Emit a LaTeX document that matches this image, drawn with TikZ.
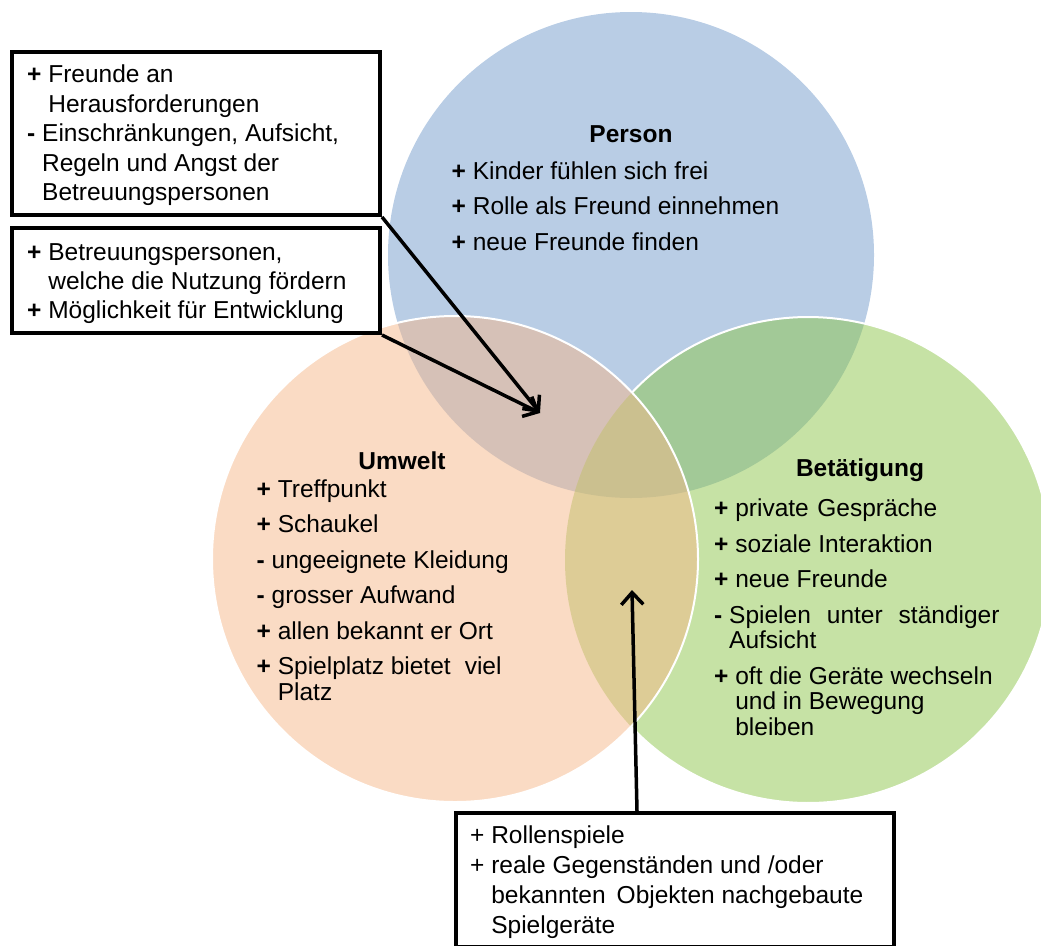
\documentclass[tikz,border=0pt]{standalone}
\usepackage{fontspec}
\setmainfont{Liberation Sans}
\usetikzlibrary{arrows.meta,calc}
\definecolor{cblue}{RGB}{115,155,203}
\definecolor{cgreen}{RGB}{141,197,75}
\definecolor{corange}{RGB}{245,183,137}
\begin{document}
\begin{tikzpicture}[x=1pt,y=-1pt,
  venn/.style={fill opacity=0.5},
  ring/.style={draw=white,line width=2pt},
  lst/.style={anchor=base west,align=left,inner sep=0pt,font=\fontsize{24.5}{25.5}\selectfont},
  boxtxt/.style={anchor=base west,align=left,inner sep=0pt,font=\fontsize{24.5}{29.5}\selectfont},
  head/.style={anchor=base,inner sep=0pt,font=\fontsize{24.5}{26}\selectfont\bfseries},
  frame/.style={draw=black,line width=4pt,fill=white,inner sep=0pt},
  conn/.style={line width=3.5pt,-{Straight Barb[length=12pt,width=22pt]}}]
\useasboundingbox (0,0) rectangle (1041,945);
% circles
\fill[cblue,venn] (631,255) circle[radius=243];
\fill[cgreen,venn] (808,560) circle[radius=243];
\fill[corange,venn] (455,559) circle[radius=243];
\draw[ring] ([shift={(-136.4:243)}]808,560) arc[start angle=-136.4,end angle=136.8,radius=243];
\draw[ring] (455,559) circle[radius=243];
% headings
\node[head] (hperson) at (631,142.7) {Person};
\node[head] (humwelt) at (402,469) {Umwelt};
\node[head] (hbet) at (860,476) {Betätigung};
% lists (anchored at the baseline of their last line)
\node[lst] (lperson) at (451.5,250) {\textbf{+} Kinder fühlen sich frei\\[10pt]
\textbf{+} Rolle als Freund einnehmen\\[10pt]
\textbf{+} neue Freunde finden};
\node[lst] (lumwelt) at (256.5,700) {\textbf{+} Treffpunkt\\[10pt]
\textbf{+} Schaukel\\[10pt]
\textbf{-} ungeeignete Kleidung\\[10pt]
\textbf{-} grosser Aufwand\\[10pt]
\textbf{+} allen bekannt er Ort\\[10pt]
\textbf{+} Spielplatz bietet\hspace{14pt}viel\\
\phantom{\textbf{+} }Platz};
\node[lst] (lbet) at (714,735) {\textbf{+} private\hspace{8.5pt}Gespräche\\[10pt]
\textbf{+} soziale Interaktion\\[10pt]
\textbf{+} neue Freunde\\[10pt]
\textbf{-} Spielen\hspace{16pt}unter\hspace{16pt}ständiger\\
\phantom{\textbf{-} }Aufsicht\\[10pt]
\textbf{+} oft die Geräte wechseln\\
\phantom{\textbf{+} }und in Bewegung\\
\phantom{\textbf{+} }bleiben};
% boxes
\node[frame,minimum width=368pt,minimum height=163pt] (box1) at (196,133.5) {};
\node[frame,minimum width=368pt,minimum height=105pt] (box2) at (196,280.5) {};
\node[frame,minimum width=438pt,minimum height=134pt] (box3) at (675,880) {};
\node[boxtxt] (t1) at (27,200.7) {\textbf{+} Freunde an\\
\phantom{\textbf{+} }Herausforderungen\\
\textbf{-} Einschränkungen, Aufsicht,\\
\phantom{\textbf{-} }Regeln und Angst der\\
\phantom{\textbf{-} }Betreuungspersonen};
\node[boxtxt,font=\fontsize{24.5}{29}\selectfont] (t2) at (27,318) {\textbf{+} Betreuungspersonen,\\
\phantom{\textbf{+} }welche die Nutzung fördern\\
\textbf{+} Möglichkeit für Entwicklung};
\node[boxtxt,font=\fontsize{24.5}{30}\selectfont] (t3) at (470,933) {+ Rollenspiele\\
+ reale Gegenständen und /oder\\
\phantom{+ }bekannten\hspace{11pt}Objekten nachgebaute\\
\phantom{+ }Spielgeräte};
% connectors
\coordinate (tipA) at (540,413);
\coordinate (tipB) at (632,590);
\draw[conn] (box1.south east) -- (tipA);
\draw[conn] (box2.south east) -- (tipA);
\draw[conn] ($(box3.north west)+(183,0)$) -- (tipB);
\end{tikzpicture}
\end{document}
